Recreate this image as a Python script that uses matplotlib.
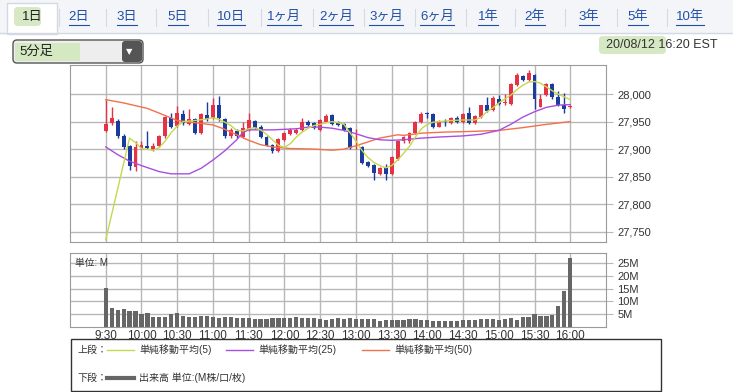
import matplotlib.pyplot as plt
import numpy as np
from matplotlib.patches import Rectangle, FancyBboxPatch

plt.rcParams['font.family'] = ['Liberation Sans', 'Noto Sans CJK JP', 'DejaVu Sans']

# 5分足 OHLC (9:30 -> 16:00)
opens = [27933, 27947, 27952, 27923, 27905, 27867, 27902, 27906, 27899, 27905,
         27923, 27956, 27942, 27964, 27946, 27954, 27930, 27962, 27956, 27980,
         27954, 27923, 27933, 27922, 27935, 27951, 27941, 27922, 27908, 27897,
         27916, 27928, 27929, 27935, 27950, 27947, 27935, 27950, 27962, 27950,
         27946, 27938, 27903, 27903, 27876, 27871, 27855, 27865, 27855, 27882,
         27914, 27914, 27929, 27950, 27965, 27964, 27941, 27951, 27947, 27957,
         27950, 27965, 27947, 27959, 27980, 27971, 27991, 27983, 27982, 28016,
         28033, 28026, 28035, 27977, 27998, 28018, 27994, 27981, 27976]
highs = [27989, 27977, 27954, 27928, 27907, 27915, 27914, 27933, 27912, 27926,
         27960, 27965, 27979, 27971, 27973, 27956, 27966, 27985, 27993, 27996,
         27956, 27938, 27936, 27950, 27965, 27953, 27943, 27924, 27910, 27921,
         27932, 27939, 27938, 27956, 27953, 27949, 27955, 27963, 27963, 27952,
         27947, 27940, 27936, 27905, 27878, 27873, 27867, 27873, 27887, 27916,
         27924, 27931, 27952, 27968, 27968, 27966, 27953, 27955, 27958, 27960,
         27966, 27977, 27962, 27981, 27994, 27996, 27998, 28000, 28020, 28038,
         28035, 28044, 28037, 28001, 28020, 28020, 28006, 28002, 27981]
lows = [27931, 27943, 27920, 27900, 27862, 27860, 27900, 27900, 27896, 27903,
        27921, 27939, 27940, 27944, 27944, 27928, 27928, 27952, 27954, 27952,
        27920, 27921, 27921, 27920, 27933, 27936, 27920, 27905, 27893, 27895,
        27914, 27926, 27927, 27933, 27942, 27936, 27933, 27949, 27944, 27942,
        27933, 27900, 27900, 27873, 27868, 27843, 27853, 27843, 27853, 27880,
        27912, 27912, 27927, 27948, 27956, 27938, 27940, 27942, 27945, 27947,
        27948, 27945, 27946, 27957, 27968, 27970, 27980, 27980, 27980, 28014,
        28024, 28024, 27973, 27976, 27996, 27992, 27978, 27966, 27975]
closes = [27945, 27956, 27923, 27904, 27870, 27904, 27908, 27902, 27906, 27924,
          27958, 27941, 27965, 27947, 27954, 27930, 27964, 27954, 27980, 27957,
          27924, 27935, 27924, 27938, 27953, 27938, 27922, 27908, 27897, 27919,
          27930, 27935, 27935, 27950, 27944, 27938, 27953, 27960, 27946, 27944,
          27935, 27902, 27904, 27875, 27870, 27856, 27865, 27855, 27885, 27914,
          27922, 27929, 27950, 27964, 27963, 27941, 27951, 27950, 27956, 27949,
          27964, 27947, 27960, 27980, 27970, 27993, 27982, 27985, 28018, 28034,
          28026, 28038, 27992, 27992, 28019, 27994, 27980, 27973, 27979]

# 出来高 (M)
volumes = [15.2, 7.3, 6.6, 7.0, 6.2, 6.2, 5.0, 5.4, 3.9, 3.9,
           3.9, 5.0, 5.4, 4.3, 3.9, 3.9, 4.3, 4.3, 3.9, 3.7,
           3.9, 3.9, 3.7, 3.4, 3.7, 3.3, 3.3, 3.3, 3.5, 3.5,
           3.5, 3.5, 3.9, 3.7, 3.7, 3.4, 3.0, 2.6, 3.0, 3.4,
           3.3, 3.5, 3.1, 3.1, 3.1, 3.1, 2.5, 2.6, 2.8, 2.8,
           2.8, 3.0, 3.1, 2.9, 2.6, 2.4, 2.5, 2.5, 2.5, 2.5,
           2.9, 2.9, 2.6, 3.1, 3.1, 3.1, 2.9, 3.1, 3.7, 2.9,
           3.9, 3.9, 5.0, 4.3, 4.3, 4.7, 8.4, 14.3, 27.0]

# moving averages (bar index, value)
ma5_x = [0, 4, 5, 6, 8, 9, 10, 11, 12, 13, 15, 17, 18, 19, 20, 21, 22, 23, 24, 25,
         26, 27, 28, 29, 30, 31, 32, 33, 34, 35, 36, 37, 38, 39, 40, 41, 42, 43, 44, 45,
         46, 47, 48, 49, 50, 51, 52, 53, 54, 55, 56, 58, 60, 62, 63, 64, 65, 66, 67, 68,
         69, 70, 71, 72, 73, 74, 75, 76, 77, 78]
ma5_y = [27735, 27920, 27912, 27901, 27898, 27903, 27915, 27930, 27942, 27950,
         27952, 27955, 27957, 27954, 27949, 27943, 27934, 27933, 27937, 27939,
         27935, 27927, 27917, 27907, 27903, 27910, 27922, 27931, 27938, 27943,
         27945, 27948, 27950, 27948, 27945, 27930, 27915, 27898, 27885, 27876,
         27870, 27866, 27870, 27880, 27892, 27905, 27922, 27937, 27945, 27949,
         27950, 27952, 27953, 27953, 27958, 27968, 27975, 27984, 27991, 27998,
         28008, 28016, 28022, 28023, 28020, 28013, 28006, 28000, 27995, 27990]
ma25_x = [0, 2, 4, 6, 9, 11, 14, 16, 18, 20, 22, 23, 24, 28, 32, 34, 36, 38, 40, 42,
          44, 46, 48, 50, 53, 56, 60, 63, 66, 68, 70, 72, 74, 76, 78]
ma25_y = [27904, 27890, 27878, 27870, 27859, 27855, 27855, 27865, 27880, 27897,
          27917, 27930, 27935, 27935, 27937, 27940, 27940, 27938, 27934, 27928,
          27921, 27917, 27916, 27917, 27920, 27922, 27924, 27927, 27934, 27945,
          27958, 27968, 27976, 27980, 27981]
ma50_x = [0, 3, 7, 10, 12, 15, 18, 20, 22, 24, 26, 28, 31, 35, 38, 40, 42, 44, 46, 48,
          49, 50, 53, 57, 61, 66, 70, 74, 78]
ma50_y = [27990, 27984, 27974, 27961, 27952, 27948, 27944, 27936, 27926, 27916,
          27908, 27904, 27901, 27900, 27898, 27900, 27906, 27913, 27920, 27924,
          27926, 27925, 27929, 27931, 27932, 27934, 27939, 27945, 27950]

time_labels = ["9:30", "10:00", "10:30", "11:00", "11:30", "12:00", "12:30",
               "13:00", "13:30", "14:00", "14:30", "15:00", "15:30", "16:00"]
price_ticks = [27750, 27800, 27850, 27900, 27950, 28000]
volume_ticks = [5, 10, 15, 20, 25]
tabs = ["1日", "2日", "3日", "5日", "10日", "1ヶ月", "2ヶ月", "3ヶ月", "6ヶ月",
        "1年", "2年", "3年", "5年", "10年"]

RED = "#e63246"
BLUE = "#1b3c9c"
MA5_C = "#c5d84e"
MA25_C = "#a84ee0"
MA50_C = "#f0714e"
GRID = "#b8b8b8"
EDGE = "#9a9a9a"

W, H = 733, 392
fig = plt.figure(figsize=(W / 100, H / 100), dpi=100)
fig.patch.set_facecolor("white")

deco = fig.add_axes([0, 0, 1, 1])
deco.set_xlim(0, W)
deco.set_ylim(H, 0)
deco.axis("off")

# tab bar
deco.add_patch(Rectangle((0, 0), W, 33, color="#f3f5f9", zorder=0))
deco.plot([0, W], [33, 33], color="#d3d9e3", lw=1)
deco.add_patch(Rectangle((7, 3), 50, 31, facecolor="white", edgecolor="#d3d9e3", lw=1))
deco.add_patch(FancyBboxPatch((14, 7), 27, 19, boxstyle="round,pad=0,rounding_size=4",
                              color="#d6e9c4", lw=0))
tab_x = [32, 79, 127, 178, 231, 284, 336, 386, 437, 488, 535, 589, 638, 690]
for i, (lab, tx) in enumerate(zip(tabs, tab_x)):
    t = deco.text(tx, 17, lab, ha="center", va="center", fontsize=9.5,
                  color="#222222" if i == 0 else "#1f4fa6")
    if i > 0:
        fig.canvas.draw()
        bb = t.get_window_extent()
        x0, _ = deco.transData.inverted().transform((bb.x0, bb.y0))
        x1, _ = deco.transData.inverted().transform((bb.x1, bb.y0))
        deco.plot([x0, x1], [25, 25], color="#1f4fa6", lw=0.8)
    if i < len(tabs) - 1:
        mx = (tx + tab_x[i + 1]) / 2 + 3
        deco.plot([mx, mx], [9, 26], color="#d5dae2", lw=0.8)

# dropdown
deco.add_patch(FancyBboxPatch((13, 40), 130, 23, boxstyle="round,pad=0,rounding_size=4",
                              facecolor="#eeeeee", edgecolor="#555555", lw=1))
deco.add_patch(Rectangle((15, 43), 65, 18, color="#d4e8c2", lw=0))
deco.add_patch(FancyBboxPatch((122, 41), 20, 21, boxstyle="round,pad=0,rounding_size=3",
                              color="#555555", lw=0))
deco.text(129, 51.5, "▼", color="white", fontsize=6, ha="center", va="center",
          family=["DejaVu Sans"])
deco.text(19, 52, "5分足", fontsize=9.5, va="center", color="#222222")

# timestamp
deco.add_patch(FancyBboxPatch((599, 36), 67, 18, boxstyle="round,pad=0,rounding_size=4",
                              color="#d6e9c4", lw=0))
deco.text(718, 45, "20/08/12 16:20 EST", fontsize=9, ha="right", va="center",
          color="#333333")

x = np.arange(len(opens))
o = np.array(opens)
c = np.array(closes)
colors = np.where(c >= o, RED, BLUE)
x_lim = (-6, 84)
tick_pos = np.arange(0, len(opens), 6)

# price panel
ax = fig.add_axes([70 / W, 1 - 242 / H, 536 / W, 177 / H])
ax.vlines(x, lows, highs, colors=colors, lw=1, zorder=3)
ax.bar(x, np.maximum(np.abs(c - o), 0.9), bottom=np.minimum(o, c), width=0.66,
       color=colors, zorder=4)
ax.plot(ma50_x, ma50_y, color=MA50_C, lw=1, zorder=5)
ax.plot(ma25_x, ma25_y, color=MA25_C, lw=1, zorder=5)
ax.plot(ma5_x, ma5_y, color=MA5_C, lw=1, zorder=5)
ax.set_xlim(*x_lim)
ax.set_ylim(27731, 28053)
ax.set_xticks(tick_pos)
ax.set_xticklabels([])
ax.set_yticks(price_ticks)
ax.set_yticklabels([f"{v:,}" for v in price_ticks])
ax.yaxis.tick_right()
ax.tick_params(axis="x", length=0)
ax.tick_params(axis="y", length=5, color=GRID, labelsize=8, labelcolor="#333333", pad=3)
ax.grid(True, color=GRID, lw=1)
ax.set_axisbelow(True)
for s in ax.spines.values():
    s.set_color(EDGE)

# volume panel
axv = fig.add_axes([70 / W, 1 - 327 / H, 536 / W, 74 / H])
axv.bar(x, volumes, width=0.7, color="#666666", zorder=3)
axv.set_xlim(*x_lim)
axv.set_ylim(0, 29)
axv.set_xticks(tick_pos)
axv.set_xticklabels(time_labels)
axv.set_yticks(volume_ticks)
axv.set_yticklabels([f"{v}M" for v in volume_ticks])
axv.yaxis.tick_right()
axv.tick_params(axis="x", length=0, labelsize=8.5, labelcolor="#333333", pad=2)
axv.tick_params(axis="y", length=5, color=GRID, labelsize=8, labelcolor="#333333", pad=3)
axv.grid(True, color=GRID, lw=1)
axv.set_axisbelow(True)
for s in axv.spines.values():
    s.set_color(EDGE)
axv.text(0.01, 0.93, "単位: M", transform=axv.transAxes, fontsize=7, va="top",
         color="#333333")

# legend box
deco.add_patch(Rectangle((71, 339), 590, 52, facecolor="white", edgecolor="#333333", lw=1))
fs = 7.2
deco.text(77, 350, "上段：", fontsize=fs, va="center", color="#333333")
legend_rows = [(107, MA5_C, "単純移動平均(5)"), (226, MA25_C, "単純移動平均(25)"),
               (362, MA50_C, "単純移動平均(50)")]
for lx, col, lab in legend_rows:
    deco.plot([lx, lx + 27], [350, 350], color=col, lw=1)
    deco.text(lx + 32, 350, lab, fontsize=fs, va="center", color="#333333")
deco.text(77, 378, "下段：", fontsize=fs, va="center", color="#333333")
deco.plot([107, 134], [378, 378], color="#666666", lw=3)
deco.text(139, 378, "出来高 単位:(M株/口/枚)", fontsize=fs, va="center", color="#333333")

fig.savefig("out.png", dpi=100)
